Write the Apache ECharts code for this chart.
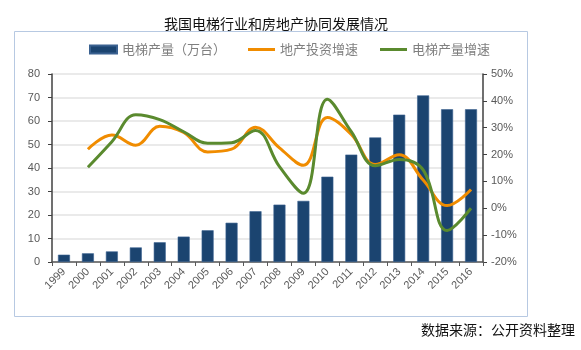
<!DOCTYPE html>
<html><head><meta charset="utf-8">
<script src="https://cdn.jsdelivr.net/npm/echarts@6/dist/echarts.min.js"></script>
<style>html,body{margin:0;padding:0;background:#fff}#c{width:581px;height:350px}</style>
</head><body><div id="c"></div>
<script>
const categories = ['1999','2000','2001','2002','2003','2004','2005','2006','2007','2008','2009','2010','2011','2012','2013','2014','2015','2016'];
const elevatorOutput = [3.1,3.7,4.5,6.2,8.4,10.8,13.5,16.7,21.6,24.4,26,36.3,45.7,53,62.7,70.9,65,65];
const realEstateGrowth = [null,22,27.3,23.5,30.5,28.2,21,22,30.2,22.5,16,33.8,27.5,16.3,19.9,10.5,1,7];
const elevatorGrowth = [null,15.3,24.8,34.8,33,28.5,24.2,24.4,29,15.5,5.6,40.6,28.5,15.8,18.2,14.3,-8.3,0];
const leftTicks = {min:0,max:80,interval:10};
const rightTicks = {min:-20,max:50,interval:10};

const chart = echarts.init(document.getElementById('c'));
const axisLabel = {color:'#595959',fontSize:11,fontFamily:'Liberation Sans'};
const lineIcon = 'path://M0,0 H27 V3 H0 Z';
chart.setOption({
  animation:false,
  title:{text:'我国电梯行业和房地产协同发展情况',left:271,textAlign:'center',top:12,
    textStyle:{fontSize:14,fontWeight:'normal',color:'#111',fontFamily:'Noto Sans CJK SC'}},
  legend:{top:38,left:84,itemGap:22,itemWidth:27,itemHeight:8,
    textStyle:{color:'#7f7f7f',fontSize:13,fontFamily:'Noto Sans CJK SC'},
    data:[{name:'电梯产量（万台）',icon:'rect'},{name:'地产投资增速',icon:lineIcon},{name:'电梯产量增速',icon:lineIcon}]},
  graphic:[
    {type:'rect',shape:{x:14.5,y:31.5,width:513,height:285},style:{fill:'none',stroke:'#b7c9e2',lineWidth:1},z:-1},
    {type:'text',right:6,top:323,style:{text:'数据来源：公开资料整理',fontSize:14,fill:'#111',fontFamily:'Noto Sans CJK SC'}}
  ],
  grid:{left:52,right:98,top:74,bottom:88},
  xAxis:{type:'category',data:categories,
    axisLine:{lineStyle:{color:'#595959',width:1.5}},
    axisTick:{show:true,length:4,lineStyle:{color:'#595959'}},
    axisLabel:Object.assign({rotate:45,margin:8,interval:0},axisLabel)},
  yAxis:[
    Object.assign({type:'value',position:'left',
      axisLine:{show:true,lineStyle:{color:'#404040',width:1.5}},
      axisTick:{show:true,length:4,lineStyle:{color:'#404040'}},
      axisLabel:Object.assign({margin:12},axisLabel),
      splitLine:{lineStyle:{color:'#e3e3e3',width:1.5}}},leftTicks),
    Object.assign({type:'value',position:'right',
      axisLine:{show:true,lineStyle:{color:'#404040',width:1.5}},
      axisTick:{show:true,length:4,lineStyle:{color:'#404040'}},
      axisLabel:Object.assign({margin:8,formatter:v=>v+'%'},axisLabel),
      splitLine:{show:false}},rightTicks)
  ],
  series:[
    {name:'电梯产量（万台）',type:'bar',data:elevatorOutput,barWidth:'50%',
      itemStyle:{color:'#1b4470',borderColor:'#3a6190',borderWidth:0.6}},
    {name:'地产投资增速',type:'line',yAxisIndex:1,data:realEstateGrowth,smooth:0.4,showSymbol:false,symbol:'none',
      lineStyle:{color:'#f08c00',width:3},itemStyle:{color:'#f08c00'}},
    {name:'电梯产量增速',type:'line',yAxisIndex:1,data:elevatorGrowth,smooth:0.4,showSymbol:false,symbol:'none',
      lineStyle:{color:'#5a8a2e',width:3},itemStyle:{color:'#5a8a2e'}}
  ]
});
</script></body></html>
